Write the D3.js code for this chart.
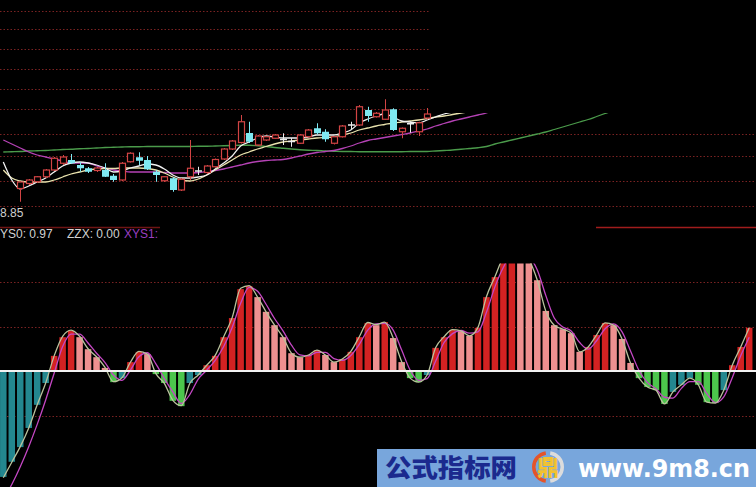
<!DOCTYPE html>
<html><head><meta charset="utf-8">
<script src="https://cdn.jsdelivr.net/npm/d3@7"></script>
<style>html,body{margin:0;padding:0;background:#000;overflow:hidden}</style>
</head><body>
<svg id="c" width="756" height="487"></svg>
<script>
// ---------- DATA ----------
// daily candles (index 0..50), null = not shown
const open  = [null,null,8.970,8.990,8.997,9.017,9.044,9.071,9.084,9.064,9.051,9.042,9.044,9.021,9.004,9.077,9.095,9.084,9.037,9.001,9.011,8.964,9.017,9.040,9.034,9.057,9.088,9.128,9.154,9.192,9.144,9.164,9.171,9.166,9.158,9.151,9.177,9.211,9.197,9.151,9.177,9.224,9.224,9.284,9.257,9.247,9.287,9.197,9.229,9.197,9.252];
const high  = [null,null,9.000,9.008,9.020,9.048,9.096,9.104,9.108,9.075,9.056,9.056,9.071,9.028,9.076,9.115,9.115,9.100,9.044,9.020,9.016,9.012,9.164,9.057,9.064,9.090,9.132,9.164,9.264,9.237,9.184,9.180,9.188,9.191,9.172,9.188,9.208,9.231,9.207,9.180,9.224,9.237,9.304,9.297,9.276,9.327,9.291,9.214,9.237,9.237,9.292];
const low   = [null,null,8.917,8.984,8.992,9.012,9.040,9.064,9.068,9.037,9.032,9.036,9.016,8.997,9.000,9.074,9.064,9.044,8.997,8.996,8.957,8.960,9.004,9.024,9.028,9.054,9.084,9.124,9.150,9.152,9.140,9.160,9.168,9.144,9.137,9.148,9.174,9.186,9.157,9.146,9.174,9.204,9.220,9.237,9.254,9.244,9.200,9.171,9.193,9.180,9.246];
const close = [null,null,8.996,9.004,9.017,9.044,9.091,9.096,9.071,9.051,9.037,9.052,9.017,9.004,9.071,9.111,9.081,9.047,9.024,9.017,8.964,9.007,9.051,9.040,9.060,9.086,9.128,9.160,9.237,9.157,9.180,9.177,9.184,9.166,9.158,9.184,9.204,9.191,9.167,9.177,9.220,9.224,9.297,9.260,9.271,9.284,9.204,9.211,9.229,9.233,9.268];

// moving averages
const ma5  = [9.076,9.004,8.968,8.980,8.996,9.012,9.036,9.060,9.072,9.076,
              9.072,9.064,9.052,9.036,9.040,9.052,9.060,9.068,9.064,9.048,
              9.024,9.012,9.012,9.016,9.024,9.048,9.072,9.100,9.140,9.156,
              9.172,9.180,9.176,9.172,9.172,9.172,9.176,9.184,9.184,9.184,
              9.192,9.204,9.232,9.248,9.260,9.268,9.256,9.240,9.236,9.232,
              9.244,9.256,9.268,9.276,9.284,9.292,9.300,9.308,9.316];
const ma10 = [9.044,9.012,9.000,8.996,8.996,8.996,9.004,9.016,9.028,9.036,
              9.044,9.048,9.050,9.050,9.052,9.052,9.052,9.050,9.044,9.032,
              9.016,9.004,9.000,9.008,9.024,9.044,9.064,9.084,9.104,9.116,
              9.128,9.138,9.148,9.156,9.160,9.164,9.168,9.172,9.174,9.176,
              9.184,9.192,9.204,9.212,9.220,9.226,9.232,9.236,9.240,9.244,
              9.250,9.256,9.260,9.266,9.272,9.278,9.284,9.292,9.300];
const ma20 = [9.164,9.148,9.132,9.116,9.104,9.096,9.088,9.080,9.072,9.072,
              9.072,9.060,9.052,9.044,9.040,9.036,9.036,9.036,9.036,9.034,
              9.032,9.032,9.032,9.034,9.038,9.042,9.048,9.056,9.064,9.072,
              9.078,9.082,9.084,9.086,9.092,9.100,9.108,9.114,9.118,9.122,
              9.130,9.140,9.152,9.162,9.168,9.174,9.180,9.186,9.192,9.200,
              9.208,9.220,9.230,9.240,9.248,9.256,9.264,9.272,9.284];
const ma60 = [9.116,9.117,9.118,9.120,9.121,9.122,9.124,9.126,9.127,9.129,
              9.130,9.132,9.134,9.135,9.136,9.137,9.137,9.138,9.138,9.138,
              9.138,9.138,9.138,9.139,9.139,9.140,9.141,9.142,9.143,9.143,
              9.141,9.138,9.134,9.131,9.128,9.125,9.123,9.122,9.120,9.119,
              9.118,9.118,9.117,9.117,9.117,9.117,9.117,9.117,9.118,9.118,
              9.118,9.120,9.122,9.124,9.127,9.130,9.133,9.138,9.148,9.156,
              9.164,9.172,9.180,9.188,9.196,9.206,9.216,9.226,9.236,9.246,
              9.258,9.270,9.282,9.294];

// price grid levels
const priceGridLow  = [8.90, 9.00, 9.10, 9.19];
const priceGridHigh = [9.29, 9.37, 9.45, 9.53, 9.61, 9.68];
const lowPriceLabel = 8.85;

// indicator histogram (index 0..88)
const hist = [-2.38,-2.04,-1.71,-1.28,-0.76,-0.27,0.34,0.76,0.90,0.76,
              0.49,0.31,0.07,-0.25,-0.16,0.20,0.43,0.38,-0.07,-0.27,
              -0.67,-0.79,-0.27,-0.09,0.13,0.34,0.76,1.19,1.84,1.91,
              1.66,1.33,1.03,0.76,0.40,0.31,0.36,0.47,0.36,0.20,
              0.27,0.43,0.76,1.08,1.03,1.10,0.74,0.20,-0.16,-0.25,
              -0.09,0.52,0.76,0.92,0.90,0.79,0.97,1.66,2.11,2.55,
              2.70,2.65,2.50,2.04,1.35,1.03,0.94,0.85,0.43,0.54,
              0.81,1.08,1.03,0.72,0.18,-0.16,-0.36,-0.43,-0.74,-0.47,
              -0.31,-0.16,-0.31,-0.70,-0.72,-0.43,0.13,0.54,0.97];
const lineA = [-2.40,-2.05,-1.70,-1.28,-0.76,-0.27,0.34,0.78,0.92,0.78,
               0.50,0.32,0.08,-0.24,-0.15,0.20,0.44,0.38,-0.06,-0.28,
               -0.66,-0.78,-0.28,-0.09,0.13,0.35,0.77,1.20,1.86,1.92,
               1.66,1.33,1.03,0.76,0.40,0.31,0.36,0.47,0.36,0.20,
               0.27,0.44,0.77,1.09,1.04,1.10,0.74,0.21,-0.16,-0.25,
               -0.09,0.52,0.77,0.93,0.90,0.79,0.98,1.67,2.12,2.56,
               2.72,2.66,2.50,2.04,1.35,1.03,0.94,0.85,0.43,0.54,
               0.81,1.08,1.03,0.72,0.18,-0.16,-0.36,-0.43,-0.74,-0.47,
               -0.31,-0.16,-0.31,-0.70,-0.72,-0.43,0.13,0.54,0.97];
const lineB = [-2.90,-2.55,-2.15,-1.70,-1.20,-0.65,-0.05,0.55,0.83,0.83,
               0.63,0.40,0.19,-0.09,-0.21,0.02,0.32,0.41,0.16,-0.17,
               -0.47,-0.73,-0.53,-0.18,0.02,0.24,0.55,0.98,1.52,1.88,
               1.79,1.50,1.18,0.90,0.58,0.36,0.34,0.42,0.42,0.28,
               0.24,0.35,0.60,0.92,1.06,1.07,0.92,0.47,0.02,-0.21,
               -0.17,0.22,0.64,0.84,0.91,0.85,0.88,1.32,1.89,2.33,
               2.63,2.68,2.58,2.27,1.70,1.19,0.99,0.90,0.64,0.49,
               0.68,0.95,1.06,0.88,0.45,0.01,-0.26,-0.40,-0.59,-0.61,
               -0.39,-0.24,-0.24,-0.51,-0.71,-0.58,-0.15,0.34,0.76];
const histGrid = [2, 1, -1];

// labels
const labelRow = [
  {t:"YS0: 0.97", c:"#d2d2d2"},
  {t:"ZZX: 0.00", c:"#d2d2d2"},
  {t:"XYS1:", c:"#9b3fc0"}
];
const wmTitle = "公式指标网";
const wmUrl = "www.9m8.cn";

// ---------- DRAW ----------
const W = 756, H = 487;
const svg = d3.select("#c");
svg.append("rect").attr("width", W).attr("height", H).attr("fill", "#000");

const x  = d3.scaleLinear().domain([0, 88]).range([3.3, 749.2]);
const yP = d3.scaleLinear().domain([8.90, 9.30]).range([206, 106]);
const yH = d3.scaleLinear().domain([0, 1]).range([371, 326.5]);

const defs = svg.append("defs");
const cpTop = defs.append("clipPath").attr("id", "cpTop");
cpTop.append("rect").attr("x", 0).attr("y", 0).attr("width", 430).attr("height", 216);
cpTop.append("rect").attr("x", 430).attr("y", 113).attr("width", 326).attr("height", 103);
const cpBot = defs.append("clipPath").attr("id", "cpBot");
cpBot.append("rect").attr("x", 0).attr("y", 263.5).attr("width", W).attr("height", H - 263.5);

// ---- top panel ----
const gt = svg.append("g").attr("clip-path", "url(#cpTop)");
gt.selectAll("line.pg").data(priceGridLow.concat(priceGridHigh)).join("line")
  .attr("x1", 0).attr("x2", W)
  .attr("y1", d => Math.round(yP(d)) + 0.5).attr("y2", d => Math.round(yP(d)) + 0.5)
  .attr("stroke", "#7a2222").attr("stroke-width", 1).attr("stroke-dasharray", "1.5,2");

const maLine = d3.line().x((d, i) => x(i)).y(d => yP(d)).curve(d3.curveMonotoneX);
[[ma60, "#4b9b4b"], [ma20, "#b542b5"], [ma10, "#e9e2ad"], [ma5, "#f2f2f2"]].forEach(([arr, col]) => {
  gt.append("path").attr("d", maLine(arr)).attr("fill", "none")
    .attr("stroke", col).attr("stroke-width", 1.3);
});

const cidx = d3.range(open.length).filter(i => open[i] != null);
const cg = gt.append("g");
cidx.forEach(i => {
  const o = open[i], h = high[i], l = low[i], c = close[i];
  const cx = Math.round(x(i)) + 0.5;
  if (c > o) {
    const col = "#d24444";
    cg.append("line").attr("x1", cx).attr("x2", cx).attr("y1", yP(h)).attr("y2", yP(c)).attr("stroke", col);
    cg.append("line").attr("x1", cx).attr("x2", cx).attr("y1", yP(o)).attr("y2", yP(l)).attr("stroke", col);
    cg.append("rect").attr("x", cx - 3).attr("y", yP(c)).attr("width", 6)
      .attr("height", Math.max(1, yP(o) - yP(c))).attr("fill", "#000").attr("stroke", col).attr("stroke-width", 1.2);
  } else if (c < o) {
    const col = "#7fe9f2";
    cg.append("line").attr("x1", cx).attr("x2", cx).attr("y1", yP(h)).attr("y2", yP(l)).attr("stroke", col);
    cg.append("rect").attr("x", cx - 3.5).attr("y", yP(o)).attr("width", 7)
      .attr("height", Math.max(1, yP(c) - yP(o))).attr("fill", col);
  } else {
    const col = "#ececec";
    cg.append("line").attr("x1", cx).attr("x2", cx).attr("y1", yP(h)).attr("y2", yP(l)).attr("stroke", col);
    cg.append("line").attr("x1", cx - 3.5).attr("x2", cx + 3.5).attr("y1", yP(o)).attr("y2", yP(o)).attr("stroke", col).attr("stroke-width", 1.5);
  }
});

svg.append("text").attr("x", 0).attr("y", yP(lowPriceLabel) - 1.5)
  .attr("font-family", "Liberation Sans, Arial, sans-serif").attr("font-size", 12)
  .attr("fill", "#cfcfcf").text(lowPriceLabel.toFixed(2));

// separator lines
svg.append("line").attr("x1", 0).attr("x2", 160).attr("y1", 227.5).attr("y2", 227.5)
  .attr("stroke", "#6e1414").attr("stroke-width", 1.5);
svg.append("line").attr("x1", 596).attr("x2", W).attr("y1", 227.5).attr("y2", 227.5)
  .attr("stroke", "#a01c1c").attr("stroke-width", 1.5);

// label row
const lx = [0, 67, 124];
labelRow.forEach((d, k) => {
  svg.append("text").attr("x", lx[k]).attr("y", 238)
    .attr("font-family", "Liberation Sans, Arial, sans-serif").attr("font-size", 12)
    .attr("fill", d.c).text(d.t);
});

// ---- bottom panel ----
const gb = svg.append("g").attr("clip-path", "url(#cpBot)");
gb.selectAll("line.hg").data(histGrid).join("line")
  .attr("x1", 0).attr("x2", W)
  .attr("y1", d => Math.round(yH(d)) + 0.5).attr("y2", d => Math.round(yH(d)) + 0.5)
  .attr("stroke", "#7a2222").attr("stroke-width", 1).attr("stroke-dasharray", "1.5,2");

function barColor(i) {
  const v = hist[i], p = i > 0 ? hist[i - 1] : v - 1;
  if (v >= 0) return v >= p ? "#d42222" : "#ee9090";
  return v >= p ? "#23878f" : "#4cc64c";
}
gb.selectAll("rect.bar").data(hist).join("rect")
  .attr("x", (d, i) => x(i) - 3.25)
  .attr("width", 6.5)
  .attr("y", d => Math.min(yH(d), yH(0)))
  .attr("height", d => Math.abs(yH(d) - yH(0)))
  .attr("fill", (d, i) => barColor(i));

const hLine = d3.line().x((d, i) => x(i)).y(d => yH(d)).curve(d3.curveMonotoneX);
gb.append("path").attr("d", hLine(lineB)).attr("fill", "none").attr("stroke", "#c447c4").attr("stroke-width", 1.3);
gb.append("path").attr("d", hLine(lineA)).attr("fill", "none").attr("stroke", "#b9c29c").attr("stroke-width", 1.3);

svg.append("line").attr("x1", 0).attr("x2", W).attr("y1", yH(0)).attr("y2", yH(0))
  .attr("stroke", "#f2f2f2").attr("stroke-width", 2);

// ---- watermark ----
const wm = svg.append("g");
wm.append("rect").attr("x", 377).attr("y", 449).attr("width", W - 377).attr("height", H - 449).attr("fill", "#78a6dc");
wm.append("text").attr("x", 385).attr("y", 477)
  .attr("font-family", "Noto Sans CJK SC, sans-serif").attr("font-weight", 900).attr("font-size", 25)
  .attr("textLength", 132).attr("lengthAdjust", "spacingAndGlyphs")
  .attr("fill", "#1b2a8e").text(wmTitle);
const lc = [548, 467], lr = 15;
const arc = d3.arc().innerRadius(lr - 2.5).outerRadius(lr + 1);
wm.append("path").attr("transform", `translate(${lc})`)
  .attr("d", arc({startAngle: Math.PI * 1.05, endAngle: Math.PI * 1.95})).attr("fill", "#e4542a");
wm.append("path").attr("transform", `translate(${lc})`)
  .attr("d", arc({startAngle: Math.PI * 0.05, endAngle: Math.PI * 0.95})).attr("fill", "#dcdcdc");
wm.append("text").attr("x", lc[0]).attr("y", lc[1] + 8).attr("text-anchor", "middle")
  .attr("font-family", "Noto Sans CJK SC, sans-serif").attr("font-weight", 900).attr("font-size", 22)
  .attr("fill", "#f2c230").text("鼎");
wm.append("text").attr("x", 578).attr("y", 477)
  .attr("font-family", "DejaVu Sans, sans-serif").attr("font-weight", "bold").attr("font-size", 24)
  .attr("textLength", 172).attr("lengthAdjust", "spacingAndGlyphs")
  .attr("fill", "#ffffff").text(wmUrl);
</script>
</body></html>
